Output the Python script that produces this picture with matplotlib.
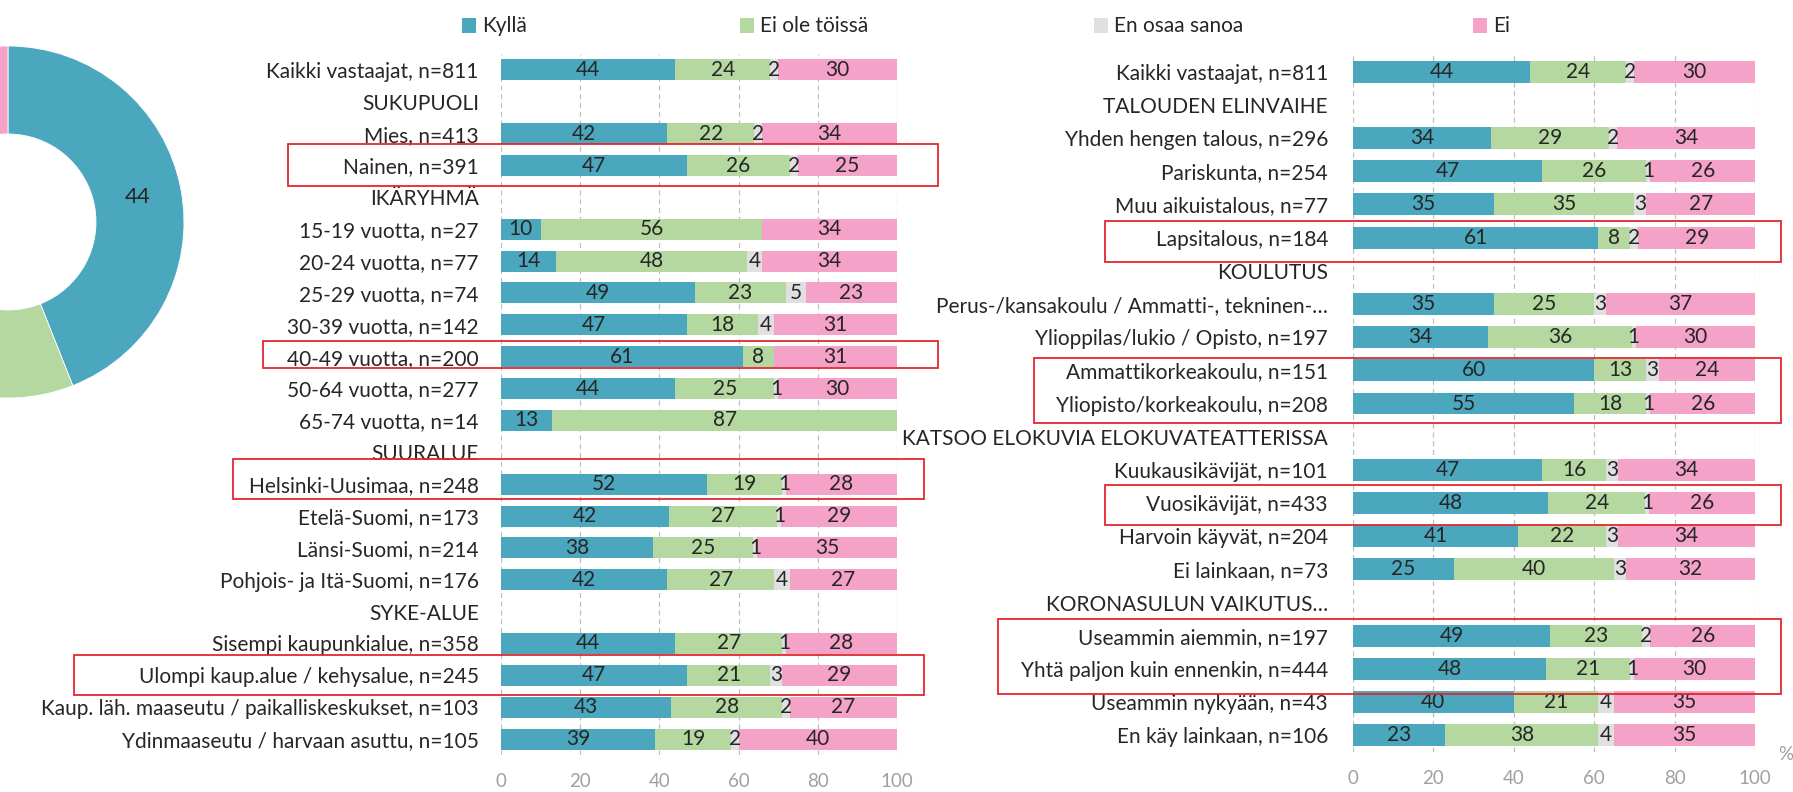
import numpy as np
import matplotlib
matplotlib.use('Agg')
import matplotlib.pyplot as plt
from matplotlib.patches import Rectangle
from matplotlib.transforms import blended_transform_factory

plt.rcParams['font.family'] = ['Lato', 'DejaVu Sans']

# ---------------- data ----------------
series_names = ['Kyllä', 'Ei ole töissä', 'En osaa sanoa', 'Ei']

donut_values = [44, 24, 2, 30]

left_labels = ['Kaikki vastaajat, n=811', 'SUKUPUOLI', 'Mies, n=413', 'Nainen, n=391',
               'IKÄRYHMÄ', '15-19 vuotta, n=27', '20-24 vuotta, n=77', '25-29 vuotta, n=74',
               '30-39 vuotta, n=142', '40-49 vuotta, n=200', '50-64 vuotta, n=277',
               '65-74 vuotta, n=14', 'SUURALUE', 'Helsinki-Uusimaa, n=248', 'Etelä-Suomi, n=173',
               'Länsi-Suomi, n=214', 'Pohjois- ja Itä-Suomi, n=176', 'SYKE-ALUE',
               'Sisempi kaupunkialue, n=358', 'Ulompi kaup.alue / kehysalue, n=245',
               'Kaup. läh. maaseutu / paikalliskeskukset, n=103', 'Ydinmaaseutu / harvaan asuttu, n=105']
left_kylla = [44, None, 42, 47, None, 10, 14, 49, 47, 61, 44, 13, None, 52, 42, 38, 42, None, 44, 47, 43, 39]
left_eiole = [24, None, 22, 26, None, 56, 48, 23, 18, 8, 25, 87, None, 19, 27, 25, 27, None, 27, 21, 28, 19]
left_eos = [2, None, 2, 2, None, 0, 4, 5, 4, 0, 1, 0, None, 1, 1, 1, 4, None, 1, 3, 2, 2]
left_ei = [30, None, 34, 25, None, 34, 34, 23, 31, 31, 30, 0, None, 28, 29, 35, 27, None, 28, 29, 27, 40]

right_labels = ['Kaikki vastaajat, n=811', 'TALOUDEN ELINVAIHE', 'Yhden hengen talous, n=296',
                'Pariskunta, n=254', 'Muu aikuistalous, n=77', 'Lapsitalous, n=184', 'KOULUTUS',
                'Perus-/kansakoulu / Ammatti-, tekninen-…', 'Ylioppilas/lukio / Opisto, n=197',
                'Ammattikorkeakoulu, n=151', 'Yliopisto/korkeakoulu, n=208',
                'KATSOO ELOKUVIA ELOKUVATEATTERISSA', 'Kuukausikävijät, n=101', 'Vuosikävijät, n=433',
                'Harvoin käyvät, n=204', 'Ei lainkaan, n=73', 'KORONASULUN VAIKUTUS…',
                'Useammin aiemmin, n=197', 'Yhtä paljon kuin ennenkin, n=444',
                'Useammin nykyään, n=43', 'En käy lainkaan, n=106']
right_kylla = [44, None, 34, 47, 35, 61, None, 35, 34, 60, 55, None, 47, 48, 41, 25, None, 49, 48, 40, 23]
right_eiole = [24, None, 29, 26, 35, 8, None, 25, 36, 13, 18, None, 16, 24, 22, 40, None, 23, 21, 21, 38]
right_eos = [2, None, 2, 1, 3, 2, None, 3, 1, 3, 1, None, 3, 1, 3, 3, None, 2, 1, 4, 4]
right_ei = [30, None, 34, 26, 27, 29, None, 37, 30, 24, 26, None, 34, 26, 34, 32, None, 26, 30, 35, 35]

x_ticks = [0, 20, 40, 60, 80, 100]

# highlighted rows (red boxes)
left_highlights = ['Nainen, n=391', '40-49 vuotta, n=200', 'Helsinki-Uusimaa, n=248',
                   'Ulompi kaup.alue / kehysalue, n=245']
right_highlights = [('Lapsitalous, n=184',), ('Ammattikorkeakoulu, n=151', 'Yliopisto/korkeakoulu, n=208'),
                    ('Vuosikävijät, n=433',), ('Useammin aiemmin, n=197', 'Yhtä paljon kuin ennenkin, n=444')]

# ---------------- style ----------------
colors = ['#4BA7BE', '#B4D89F', '#E0E0E0', '#F4A2C8']
text_col = '#262626'
tick_col = '#A0A0A0'
grid_col = '#BFBFBF'
red = '#E3262F'
W, H = 1793, 792
FS = 15

fig = plt.figure(figsize=(W / 100, H / 100), dpi=100)


def fx(px):
    return px / W


def fy(py):
    return 1 - py / H


def to_arr(v):
    return np.array([np.nan if a is None else a for a in v], dtype=float)


def stacked(ax, labels, series, pad_pt):
    n = len(labels)
    y = np.arange(n)
    arrs = [to_arr(s) for s in series]
    totals = np.nansum(np.vstack(arrs), axis=0)
    totals[totals == 0] = 100
    cum = np.zeros(n)
    for v, c in zip(arrs, colors):
        # 100 % stacked: widths normalised to the row total
        w_norm = v / totals * 100
        ax.barh(y, w_norm, left=cum, height=0.66, color=c, edgecolor='none', zorder=2)
        for yi, (l, w, lab) in enumerate(zip(cum, w_norm, v)):
            if not np.isnan(lab) and lab >= 1:
                ax.text(l + w / 2, yi, f'{int(lab)}', ha='center', va='center',
                        fontsize=FS, color=text_col, zorder=3)
        cum = cum + np.nan_to_num(w_norm)
    ax.set_xlim(0, 100)
    ax.set_ylim(n - 0.5, -0.5)
    ax.set_yticks(y)
    ax.set_yticklabels(labels, fontsize=FS, color=text_col)
    ax.set_xticks(x_ticks)
    ax.set_xticklabels([str(t) for t in x_ticks], fontsize=13.5, color=tick_col)
    ax.tick_params(axis='y', length=0, pad=pad_pt)
    ax.tick_params(axis='x', length=0, pad=13)
    for s in ax.spines.values():
        s.set_visible(False)
    ax.set_axisbelow(True)
    ax.xaxis.grid(True, linestyle=(0, (4, 3)), color=grid_col, linewidth=0.9, zorder=0)
    ax.yaxis.grid(False)


# left chart
axL = fig.add_axes([fx(501), fy(755), fx(897) - fx(501), fy(54) - fy(755)])
stacked(axL, left_labels, [left_kylla, left_eiole, left_eos, left_ei], 16)

# right chart
axR = fig.add_axes([fx(1353), fy(752), fx(1755) - fx(1353), fy(55) - fy(752)])
stacked(axR, right_labels, [right_kylla, right_eiole, right_eos, right_ei], 18)

# donut (partly outside the figure, as in the reference)
cx, cy, R = 8, 222, 176
axD = fig.add_axes([fx(cx - R), fy(cy + R), fx(2 * R), 2 * R / H])
wedges, _ = axD.pie(donut_values, colors=colors, startangle=90, counterclock=False, radius=1,
                    wedgeprops=dict(width=0.5, edgecolor='white', linewidth=0.6))
for wdg, val in zip(wedges, donut_values):
    mid = np.deg2rad((wdg.theta1 + wdg.theta2) / 2)
    lx, ly = 0.75 * np.cos(mid), 0.75 * np.sin(mid)
    if cx + lx * R > 15:  # only labels that fall inside the visible figure
        axD.text(lx, ly, str(val), ha='center', va='center', fontsize=FS + 1, color=text_col)
axD.set_xlim(-1, 1)
axD.set_ylim(-1, 1)
axD.set_axis_off()

# legend (figure-level)
legend_x = [462, 740, 1094, 1473]
for px, name, c in zip(legend_x, series_names, colors):
    fig.patches.append(Rectangle((fx(px), fy(33)), fx(14), 15 / H, transform=fig.transFigure,
                                 facecolor=c, edgecolor='none'))
    fig.text(fx(px + 20), fy(25.5), name, ha='left', va='center', fontsize=FS, color=text_col)

# percent sign
fig.text(fx(1778), fy(755), '%', ha='left', va='center', fontsize=13.5, color=tick_col)

# red highlight boxes
left_box_geom = [(288, 938, -0.68, 0.64), (263, 938, -0.50, 0.35),
                 (233, 924, -0.79, 0.47), (74, 924, -0.63, 0.63)]
for name, (x0, x1, dt, db) in zip(left_highlights, left_box_geom):
    i = left_labels.index(name)
    tr = blended_transform_factory(fig.transFigure, axL.transData)
    fig.patches.append(Rectangle((fx(x0), i + db), fx(x1) - fx(x0), dt - db, transform=tr,
                                 fill=False, edgecolor=red, linewidth=1.3, zorder=10))

right_box_geom = [(1105, 1781, -0.50, 0.74), (1034, 1781, -0.38, 0.60),
                  (1105, 1781, -0.54, 0.66), (998, 1781, -0.51, 0.74)]
for names, (x0, x1, dt, db) in zip(right_highlights, right_box_geom):
    i0 = right_labels.index(names[0])
    i1 = right_labels.index(names[-1])
    tr = blended_transform_factory(fig.transFigure, axR.transData)
    fig.patches.append(Rectangle((fx(x0), i1 + db), fx(x1) - fx(x0), (i0 + dt) - (i1 + db), transform=tr,
                                 fill=False, edgecolor=red, linewidth=1.3, zorder=10))

fig.savefig('out.png', dpi=100)
